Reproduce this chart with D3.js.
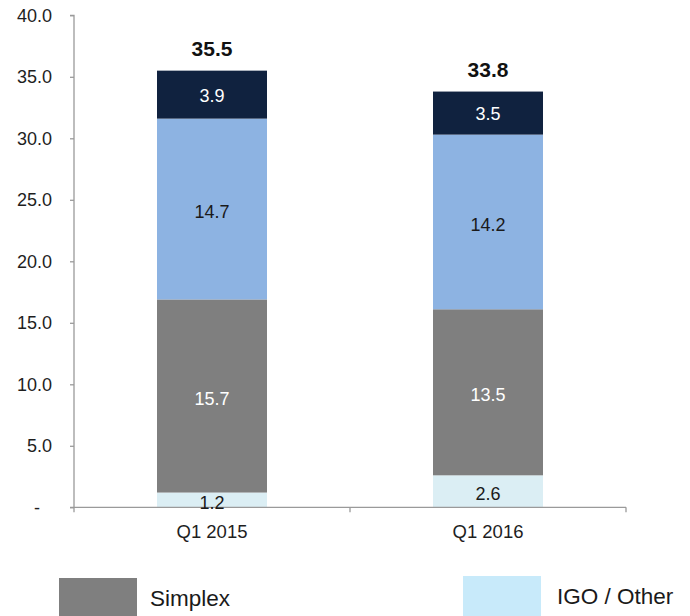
<!DOCTYPE html>
<html>
<head>
<meta charset="utf-8">
<script src="https://cdn.jsdelivr.net/npm/d3@7"></script>
<style>
  html, body { margin: 0; padding: 0; background: #fff; }
  svg { display: block; font-family: "Liberation Sans", Arial, Helvetica, sans-serif; }
</style>
</head>
<body>
<svg id="chart" width="690" height="616"></svg>
<script>
// ---- data ----
const categories = ["Q1 2015", "Q1 2016"];
const seriesNames = ["IGO / Other", "Simplex", "Series 3", "Series 4"];
const igoOther = [1.2, 2.6];
const simplex = [15.7, 13.5];
const series3 = [14.7, 14.2];
const series4 = [3.9, 3.5];
const totals = [35.5, 33.8];
const yTicks = [0, 5, 10, 15, 20, 25, 30, 35, 40];
const yTickLabels = ["-", "5.0", "10.0", "15.0", "20.0", "25.0", "30.0", "35.0", "40.0"];

const colors = ["#dbeef4", "#7f7f7f", "#8db3e2", "#10223f"];
const labelColors = ["#1a1a1a", "#ffffff", "#1a1a1a", "#ffffff"];
const legendColors = ["#c8eafa", "#7f7f7f"];

const svg = d3.select("#chart");
const x0 = 74, x1 = 626, yTop = 15.3, yBot = 507.3;

const x = d3.scaleBand().domain(categories).range([x0, x1]).paddingInner(0).paddingOuter(0);
const y = d3.scaleLinear().domain([0, 40]).range([yBot, yTop]);
const barW = 110;

const rows = categories.map((c, i) => ({
  cat: c, "0": igoOther[i], "1": simplex[i], "2": series3[i], "3": series4[i]
}));
const stack = d3.stack().keys(["0", "1", "2", "3"]);
const stacked = stack(rows);

const g = svg.append("g");
stacked.forEach((layer, li) => {
  const lg = g.append("g");
  lg.selectAll("rect").data(layer).enter().append("rect")
    .attr("x", d => x(d.data.cat) + x.bandwidth() / 2 - barW / 2)
    .attr("width", barW)
    .attr("y", d => y(d[1]))
    .attr("height", d => y(d[0]) - y(d[1]))
    .attr("fill", colors[li]);
});

// axes
const axisColor = "#9a9a9a";
const yAxis = d3.axisLeft(y).tickValues(yTicks).tickSize(4).tickPadding(18)
  .tickFormat((d, i) => yTickLabels[i]);
const ya = svg.append("g").attr("transform", `translate(${x0},0)`).call(yAxis);
ya.select(".domain").attr("stroke", axisColor).attr("stroke-width", 1.3)
  .attr("d", `M-4,${yTop}H0V${yBot}`);
ya.selectAll(".tick line").attr("stroke", axisColor).attr("stroke-width", 1.3);
ya.selectAll(".tick text").attr("font-size", 18).attr("fill", "#1e1e1e")
  .attr("font-family", "'Liberation Sans', Arial, sans-serif")
  .attr("dx", d => d === 0 ? -12 : 0);

const xa = svg.append("g").attr("transform", `translate(0,${yBot})`);
xa.append("line").attr("x1", x0 - 4).attr("x2", x1).attr("y1", 0).attr("y2", 0)
  .attr("stroke", axisColor).attr("stroke-width", 1.3);
const xTickPos = [x0, x(categories[1]), x1];
xa.selectAll("line.xt").data(xTickPos).enter().append("line").attr("class", "xt")
  .attr("x1", d => d).attr("x2", d => d).attr("y1", 0).attr("y2", 5)
  .attr("stroke", axisColor).attr("stroke-width", 1.3);
xa.selectAll("text").data(categories).enter().append("text")
  .attr("x", d => x(d) + x.bandwidth() / 2)
  .attr("y", 31)
  .attr("text-anchor", "middle")
  .attr("font-size", 18.5)
  .attr("fill", "#1e1e1e")
  .text(d => d);

// segment labels
stacked.forEach((layer, li) => {
  svg.append("g").selectAll("text").data(layer).enter().append("text")
    .attr("x", d => x(d.data.cat) + x.bandwidth() / 2)
    .attr("y", d => (y(d[0]) + y(d[1])) / 2 + (li === 3 ? 7 : 9))
    .attr("text-anchor", "middle")
    .attr("font-size", 18)
    .attr("fill", labelColors[li])
    .text(d => (d[1] - d[0]).toFixed(1));
});

// totals
svg.append("g").selectAll("text").data(categories).enter().append("text")
  .attr("x", d => x(d) + x.bandwidth() / 2)
  .attr("y", (d, i) => y(totals[i]) - 15)
  .attr("text-anchor", "middle")
  .attr("font-size", 21)
  .attr("font-weight", "bold")
  .attr("fill", "#111")
  .text((d, i) => totals[i].toFixed(1));

// legend
const legendItems = [
  { name: seriesNames[1], color: legendColors[1], sx: 59, sy: 578, tx: 150, ty: 606 },
  { name: seriesNames[0], color: legendColors[0], sx: 463, sy: 576, tx: 557, ty: 604 }
];
const lg = svg.append("g");
legendItems.forEach(it => {
  lg.append("rect").attr("x", it.sx).attr("y", it.sy).attr("width", 78).attr("height", 50).attr("fill", it.color);
  lg.append("text").attr("x", it.tx).attr("y", it.ty).attr("font-size", 22.5).attr("fill", "#1a1a1a").text(it.name);
});
</script>
</body>
</html>
